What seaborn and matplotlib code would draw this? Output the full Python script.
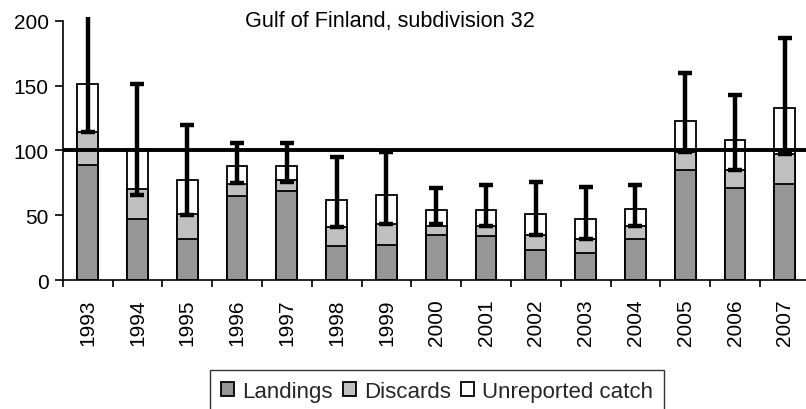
import numpy as np
import pandas as pd
import seaborn as sns
import matplotlib.pyplot as plt

# values
years = [str(y) for y in range(1993, 2008)]
landings = [89, 47, 32, 65, 69, 26, 27, 35, 34, 23, 21, 32, 85, 71, 74]
discards = [25, 23, 19, 9, 8, 15, 16, 7, 8, 12, 11, 10, 14, 14, 23]
unreported = [37, 31, 26, 14, 11, 21, 23, 12, 12, 16, 15, 13, 24, 23, 36]
err_low = [114, 66, 50, 75, 76, 41, 43, 43, 42, 35, 32, 42, 99, 85, 97]
err_high = [215, 151, 120, 106, 106, 95, 99, 71, 73, 76, 72, 73, 160, 143, 187]
reference_level = 100

sns.set_theme(style="white")
plt.rcParams['font.family'] = ['Liberation Sans', 'DejaVu Sans']

df = pd.DataFrame({"year": years, "landings": landings,
                   "discards": discards, "unreported": unreported})
df["ld"] = df["landings"] + df["discards"]
df["total"] = df["ld"] + df["unreported"]

fig = plt.figure(figsize=(8.06, 4.10), dpi=100)
ax = fig.add_axes([0.0778, 0.3146, 0.9268, 0.6415])

bar_kw = dict(width=0.42, edgecolor="black", linewidth=1.3, ax=ax)
# draw cumulative heights back to front to get the stack
sns.barplot(data=df, x="year", y="total", color="white", label="Unreported catch", **bar_kw)
sns.barplot(data=df, x="year", y="ld", color="#c0c0c0", label="Discards", **bar_kw)
sns.barplot(data=df, x="year", y="landings", color="#969696", label="Landings", **bar_kw)
if ax.get_legend() is not None:
    ax.get_legend().remove()

ax.axhline(reference_level, color="black", lw=2.8, zorder=4)

pos = np.arange(len(years))
tot = df["total"].to_numpy()
yerr = np.vstack([tot - np.array(err_low), np.array(err_high) - tot])
ax.errorbar(pos, tot, yerr=yerr, fmt="none", ecolor="black", elinewidth=3.2,
            capsize=5, capthick=3.2, zorder=5)

ax.set_xlim(-0.5, len(years) - 0.5)
ax.set_ylim(0, 203)
ax.set_yticks([0, 50, 100, 150, 200])
ax.spines['left'].set_bounds(0, 200)
ax.spines['top'].set_visible(False)
ax.spines['right'].set_visible(False)
for s in ['left', 'bottom']:
    ax.spines[s].set_color("black")
    ax.spines[s].set_linewidth(1.2)
ax.set_xlabel("")
ax.set_ylabel("")
ax.set_xticks(pos)
ax.set_xticklabels(years, rotation=90)
ax.set_xticks(np.arange(-0.5, len(years)), minor=True)
ax.tick_params(axis="x", which="major", length=0, pad=13, labelsize=15, colors="black")
ax.tick_params(axis="x", which="minor", length=5, width=1.2, color="black", direction="out", bottom=True)
ax.tick_params(axis="y", length=6, width=1.2, color="black", direction="out", left=True,
               pad=4, labelsize=15, labelcolor="black")

fig.text(0.484, 1 - 27.5 / 410, "Gulf of Finland, subdivision 32", fontsize=15.6,
         ha="center", va="baseline", color="black")

handles, labels = ax.get_legend_handles_labels()
order = [labels.index(n) for n in ["Landings", "Discards", "Unreported catch"]]
leg = fig.legend([handles[i] for i in order], [labels[i] for i in order],
                 loc="upper center", bbox_to_anchor=(437 / 806, 1 - 371 / 410), ncol=3,
                 fontsize=16, frameon=True, fancybox=False, edgecolor="black",
                 handlelength=0.6, handleheight=0.6, handletextpad=0.35,
                 columnspacing=0.45, borderpad=0.5, borderaxespad=0)
leg.get_frame().set_linewidth(1.0)

fig.savefig("out.png", dpi=100)
